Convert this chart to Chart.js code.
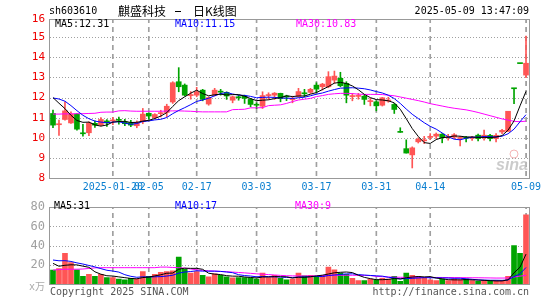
<!DOCTYPE html>
<html>
<head>
<meta charset="utf-8">
<script src="https://cdn.jsdelivr.net/npm/chart.js@4.4.1/dist/chart.umd.min.js"></script>
<style>
body{margin:0;background:#fff;}
#wrap{position:relative;width:545px;height:300px;overflow:hidden;}
canvas{position:absolute;left:0;}
#kline{top:0;}
#vol{top:195px;}
</style>
</head>
<body>
<div id="wrap">
<canvas id="kline" width="545" height="195"></canvas>
<canvas id="vol" width="545" height="105"></canvas>
</div>
<script>
// 日K data
var dates = ['2025-01-06','2025-01-07','2025-01-08','2025-01-09','2025-01-10','2025-01-13','2025-01-14','2025-01-15','2025-01-16','2025-01-17',
	'2025-01-20','2025-01-21','2025-01-22','2025-01-23','2025-01-24','2025-01-27','2025-02-05','2025-02-06','2025-02-07','2025-02-10',
	'2025-02-11','2025-02-12','2025-02-13','2025-02-14','2025-02-17','2025-02-18','2025-02-19','2025-02-20','2025-02-21','2025-02-24',
	'2025-02-25','2025-02-26','2025-02-27','2025-02-28','2025-03-03','2025-03-04','2025-03-05','2025-03-06','2025-03-07','2025-03-10',
	'2025-03-11','2025-03-12','2025-03-13','2025-03-14','2025-03-17','2025-03-18','2025-03-19','2025-03-20','2025-03-21','2025-03-24',
	'2025-03-25','2025-03-26','2025-03-27','2025-03-28','2025-03-31','2025-04-01','2025-04-02','2025-04-03','2025-04-07','2025-04-08',
	'2025-04-09','2025-04-10','2025-04-11','2025-04-14','2025-04-15','2025-04-16','2025-04-17','2025-04-18','2025-04-21','2025-04-22',
	'2025-04-23','2025-04-24','2025-04-25','2025-04-28','2025-04-29','2025-04-30','2025-05-06','2025-05-07','2025-05-08','2025-05-09'];

var openP = [11.21,10.65,10.91,10.74,11.18,10.23,10.25,10.72,10.64,10.84,
	10.84,10.90,10.79,10.75,10.60,10.80,11.22,11.00,11.20,11.26,
	11.78,12.79,12.62,12.10,12.12,12.37,11.68,12.12,12.30,12.26,
	11.87,12.02,12.07,11.91,11.66,11.57,12.10,12.12,12.21,12.06,
	11.90,12.07,12.22,12.26,12.62,12.54,12.54,12.87,12.96,12.71,
	12.05,12.06,12.07,11.80,11.79,11.62,11.83,11.66,10.28,9.46,
	9.15,9.80,9.85,10.02,10.08,10.18,10.02,10.03,9.97,10.00,
	9.98,10.13,10.00,10.12,9.96,10.29,10.32,12.45,13.70,13.12];
var highP = [11.38,10.88,11.79,11.29,11.20,10.67,10.79,10.85,11.00,10.91,
	11.02,11.03,10.92,10.87,10.84,11.46,11.23,11.20,11.37,11.67,
	12.79,13.49,12.68,12.30,12.51,12.41,12.04,12.46,12.41,12.29,
	12.08,12.12,12.12,11.96,11.74,12.29,12.24,12.25,12.22,12.12,
	12.07,12.46,12.41,12.46,12.74,12.71,13.29,13.32,13.26,12.79,
	12.21,12.21,12.12,11.96,11.84,12.01,12.02,11.71,10.50,9.90,
	9.55,10.00,10.07,10.21,10.24,10.21,10.17,10.21,10.07,10.07,
	10.07,10.18,10.38,10.17,10.21,10.42,11.32,12.45,13.70,15.06];
var lowP = [10.50,10.12,10.88,10.71,10.38,10.08,10.10,10.52,10.59,10.56,
	10.65,10.68,10.60,10.55,10.50,10.70,10.93,10.94,11.04,11.04,
	11.71,12.29,12.08,11.92,12.04,11.84,11.62,12.08,12.12,11.91,
	11.74,11.87,11.71,11.54,11.45,11.46,11.91,11.91,11.79,11.85,
	11.74,12.01,12.04,12.21,12.26,12.37,12.49,12.71,12.54,11.74,
	11.84,11.92,11.66,11.59,11.34,11.58,11.77,11.21,10.27,9.24,
	8.50,9.74,9.71,9.92,9.96,9.75,9.88,9.96,9.59,9.79,
	9.87,9.85,9.88,9.85,9.80,10.21,10.32,11.70,13.69,12.99];
var closeP = [10.63,10.70,11.34,11.18,10.43,10.20,10.74,10.63,10.91,10.74,
	10.88,10.87,10.70,10.63,10.76,11.18,11.08,11.16,11.24,11.57,
	12.74,12.54,12.12,12.15,12.29,11.91,12.00,12.37,12.27,12.08,
	12.04,11.99,11.96,11.66,11.62,12.10,12.13,12.22,11.95,12.03,
	11.92,12.30,12.19,12.41,12.42,12.67,13.04,13.07,12.59,12.12,
	12.08,12.08,11.91,11.83,11.59,11.99,11.86,11.41,10.27,9.24,
	9.50,9.93,9.88,10.05,10.18,10.01,10.05,10.15,9.99,9.98,
	10.02,9.96,10.13,9.96,10.12,10.37,11.32,12.44,13.69,13.71];

var ma5 = [12.00,11.72,11.45,11.12,10.86,10.77,10.78,10.64,10.58,10.64,
	10.78,10.81,10.82,10.76,10.77,10.83,10.87,10.96,11.08,11.25,
	11.56,11.85,12.04,12.22,12.37,12.20,12.09,12.14,12.17,12.13,
	12.15,12.15,12.07,11.95,11.85,11.87,11.89,11.95,12.00,12.09,
	12.05,12.08,12.08,12.17,12.25,12.40,12.55,12.72,12.76,12.70,
	12.58,12.39,12.16,12.00,11.90,11.88,11.84,11.74,11.42,10.95,
	10.46,10.07,9.76,9.72,9.91,10.01,10.03,10.09,10.08,10.04,
	10.04,10.02,10.02,10.01,10.04,10.11,10.38,10.84,11.59,12.31];
var ma10 = [11.98,11.93,11.82,11.60,11.35,11.12,10.95,10.83,10.78,10.75,
	10.78,10.80,10.73,10.67,10.71,10.81,10.84,10.89,10.92,11.01,
	11.20,11.36,11.50,11.65,11.81,11.88,11.97,12.09,12.20,12.25,
	12.18,12.12,12.11,12.06,11.99,12.01,12.02,12.01,11.98,11.97,
	11.96,11.99,12.02,12.09,12.17,12.23,12.32,12.40,12.47,12.48,
	12.49,12.47,12.44,12.38,12.30,12.23,12.12,11.95,11.71,11.43,
	11.17,10.96,10.75,10.57,10.43,10.24,10.05,9.93,9.90,9.98,
	10.03,10.03,10.06,10.05,10.04,10.08,10.20,10.43,10.80,11.15];
var ma30 = [11.18,11.18,11.19,11.19,11.20,11.20,11.21,11.22,11.27,11.28,
	11.28,11.34,11.35,11.33,11.32,11.32,11.32,11.32,11.32,11.33,
	11.34,11.34,11.33,11.32,11.30,11.29,11.29,11.29,11.29,11.29,
	11.40,11.41,11.42,11.49,11.49,11.50,11.60,11.62,11.64,11.71,
	11.80,11.88,11.92,11.96,12.05,12.10,12.16,12.19,12.21,12.21,
	12.20,12.17,12.16,12.16,12.16,12.15,12.12,12.09,12.03,11.97,
	11.91,11.85,11.78,11.70,11.64,11.58,11.52,11.47,11.43,11.39,
	11.33,11.26,11.18,11.10,11.02,10.94,10.88,10.82,10.80,10.83];

// 成交量, 万手
var volume = [14.4,16,31.9,22.4,14.8,8.1,10,8.1,10,6.8,
	6.8,5.2,4.3,5.9,5,12.9,8.1,10,12.2,12.9,
	13.8,28.1,15.4,11.3,12.9,9,7.5,10.6,9,7.5,
	6.5,6.8,6.8,6.5,5,11.3,6.8,9,5.9,4.3,
	5,11.3,8.4,9,8.1,9,17.6,14.8,11.3,10,
	5.9,3.6,3.6,5,4.3,5.9,5,8.1,2.7,11.3,
	9,8.1,5.9,4.3,3.6,5,3.6,5,4.3,5,
	3.6,2.7,3.6,2.7,3.6,3.6,8.1,40,32,72];
var vma5 = [21.5,18.5,19.5,20,19.9,18.6,17.4,12.7,10.2,8.6,
	8.3,7.4,6.6,5.8,5.4,6.7,7.2,8.4,9.6,11.2,
	11.4,15.4,16.5,16.3,16.3,15.3,11.2,10.3,9.8,8.7,
	8.2,8.1,7.3,6.8,6.3,7.3,7.3,7.7,7.6,7.5,
	6.2,7.1,7.0,7.6,8.4,9.2,10.4,11.7,12.2,12.5,
	11.9,9.1,6.9,5.6,4.5,4.5,4.8,5.7,5.2,6.6,
	7.2,7.8,7.4,7.7,6.2,5.4,4.5,4.3,4.3,4.6,
	4.3,4.1,3.8,3.5,3.2,3.2,4.3,11.6,17.5,31.1];
var vma10 = [25,24.2,24.3,23.5,22,20.8,19.3,17.8,16,14.3,
	13.5,12.4,9.7,8.0,7.0,7.5,7.3,7.5,7.7,8.3,
	9.1,11.3,12.5,13.0,13.8,13.4,13.3,13.4,13.1,12.5,
	11.8,9.7,8.8,8.3,7.5,7.8,7.7,7.5,7.2,6.9,
	6.8,7.2,7.4,7.6,8.0,7.7,8.8,9.4,9.9,10.5,
	10.6,9.8,9.3,8.9,8.5,8.2,7.0,6.3,5.4,5.6,
	5.9,6.3,6.6,6.5,6.4,6.3,6.2,5.9,6.0,5.4,
	4.9,4.3,4.1,3.9,3.9,3.8,4.2,7.7,10.5,17.2];
var vma30 = [14.5,15.0,15.4,15.4,15.4,15.6,16.2,16.8,17.0,17.0,
	17.0,17.0,17.0,17.0,17.0,17.0,17.0,17.0,17.6,17.6,
	17.2,17.0,16.5,15.6,14.8,14.2,13.8,13.4,13.1,12.8,
	12.4,12.0,11.6,11.1,10.6,10.2,9.8,9.4,9.0,8.6,
	8.5,8.4,8.4,8.4,8.5,8.8,9.0,9.1,9.1,9.1,
	9.1,9.0,9.0,8.8,8.0,7.6,7.3,7.1,7.0,6.9,
	6.9,6.9,6.8,6.8,6.8,6.8,6.7,6.7,6.6,6.6,
	6.5,6.5,6.4,6.3,6.2,6.2,6.3,7.3,8.2,9.0];

var tickIdx = [10, 16, 24, 34, 44, 54, 63, 79];
var priceMin = 8, priceMax = 15.91, volMax = 80;

var up = '#ff5555', down = '#00a400';
var mono = '"DejaVu Sans Mono", monospace';
Chart.defaults.font.family = mono;
Chart.defaults.font.size = 10;

var colors = [], bodies = [], wicks = [], priceGrid = [], volGrid = [];
for (var i = 0; i < dates.length; i++) {
	colors.push(closeP[i] > openP[i] ? up : down);
	bodies.push([openP[i], closeP[i]]);
	wicks.push([lowP[i], highP[i]]);
	var isTick = tickIdx.indexOf(i) >= 0;
	priceGrid.push(isTick ? [priceMin, priceMax] : null);
	volGrid.push(isTick ? [0, volMax] : null);
}

function maLine(data, color) {
	return {type: 'line', data: data, borderColor: color, borderWidth: 1, pointRadius: 0, tension: 0, order: 0};
}

// dashed fill for the vertical date lines, made on the chart's own context
function dashFill(c) {
	var ctx = c.chart.ctx;
	if (!ctx._dash) {
		var cv = document.createElement('canvas');
		cv.width = 1;
		cv.height = 9;
		var g = cv.getContext('2d');
		g.fillStyle = '#a0a0a0';
		g.fillRect(0, 0, 1, 5);
		ctx._dash = ctx.createPattern(cv, 'repeat');
	}
	return ctx._dash;
}

function gridBars(data) {
	return {data: data, backgroundColor: dashFill, barThickness: 1, grouped: false, order: 5};
}

// dotted horizontal grid from the y ticks, dashed verticals at the date bars
var dotGrid = {
	id: 'dotGrid',
	beforeDatasetsDraw: function(chart) {
		var ctx = chart.ctx, a = chart.chartArea, ys = chart.scales.y;
		var top = Math.round(a.top), bot = Math.round(a.bottom);
		var meta = chart.getDatasetMeta(chart.data.datasets.length - 1);
		ctx.save();
		ctx.fillStyle = '#a0a0a0';
		ys.ticks.forEach(function(t) {
			var py = Math.round(ys.getPixelForValue(t.value));
			for (var x = Math.round(a.left); x < a.right; x += 3) ctx.fillRect(x, py, 1, 1);
		});
		tickIdx.forEach(function(k) {
			var el = meta.data[k];
			if (!el || !isFinite(el.x)) return;
			var px = Math.floor(el.x);
			for (var y = top; y < bot; y++) {
				if (y % 9 < 5) ctx.fillRect(px, y, 1, 1);
			}
		});
		ctx.restore();
	}
};

function drawBox(chart) {
	var ctx = chart.ctx, a = chart.chartArea;
	ctx.strokeStyle = '#999';
	ctx.lineWidth = 1;
	ctx.setLineDash([]);
	ctx.strokeRect(Math.round(a.left) - 0.5, Math.round(a.top) + 0.5, Math.round(a.right - a.left) + 1, Math.round(a.bottom - a.top));
}

var klineText = {
	id: 'klineText',
	afterDraw: function(chart) {
		var ctx = chart.ctx;
		ctx.save();
		drawBox(chart);
		ctx.textBaseline = 'middle';
		ctx.font = '10px ' + mono;
		ctx.fillStyle = '#000';
		ctx.fillText('sh603610', 49, 11);
		ctx.textAlign = 'right';
		ctx.fillText('2025-05-09 13:47:09', 529, 11);
		ctx.textAlign = 'left';
		ctx.font = '12px "Noto Sans CJK SC"';
		ctx.fillText('麒盛科技', 118, 11);
		ctx.fillText('日K线图', 193, 11);
		ctx.fillRect(175, 11, 6, 1);
		ctx.font = '10px ' + mono;
		ctx.fillStyle = '#000';
		ctx.fillText('MA5:12.31', 55, 24);
		ctx.fillStyle = '#0000ff';
		ctx.fillText('MA10:11.15', 175, 24);
		ctx.fillStyle = '#ff00ff';
		ctx.fillText('MA30:10.83', 296, 24);
		// sina watermark
		ctx.fillStyle = 'rgba(190,190,190,0.8)';
		ctx.font = 'italic bold 16px "Liberation Sans"';
		ctx.fillText('sina', 496, 166);
		ctx.strokeStyle = 'rgba(240,150,150,0.7)';
		ctx.beginPath();
		ctx.arc(514, 154, 4, 0, Math.PI * 2);
		ctx.stroke();
		ctx.restore();
	}
};

var volText = {
	id: 'volText',
	afterDraw: function(chart) {
		var ctx = chart.ctx;
		ctx.save();
		drawBox(chart);
		ctx.textBaseline = 'middle';
		ctx.font = '10px ' + mono;
		ctx.fillStyle = '#000';
		ctx.fillText('MA5:31', 54, 11);
		ctx.fillStyle = '#0000ff';
		ctx.fillText('MA10:17', 175, 11);
		ctx.fillStyle = '#ff00ff';
		ctx.fillText('MA30:9', 295, 11);
		ctx.fillStyle = '#555';
		ctx.fillText('Copyright 2025 SINA.COM', 50, 97);
		ctx.textAlign = 'right';
		ctx.fillText('http://finance.sina.com.cn', 529, 97);
		ctx.fillStyle = '#aaa';
		ctx.font = '10px ' + mono + ', "Noto Sans CJK SC"';
		ctx.fillText('x万', 45, 92);
		ctx.restore();
	}
};

new Chart(document.getElementById('kline'), {
	type: 'bar',
	data: {
		labels: dates,
		datasets: [
			maLine(ma5, '#000000'),
			maLine(ma10, '#0000ff'),
			maLine(ma30, '#ff00ff'),
			{data: wicks, backgroundColor: colors, barThickness: 1, grouped: false, order: 2},
			{data: bodies, backgroundColor: colors, barThickness: 5, minBarLength: 1, grouped: false, order: 1},
			gridBars(priceGrid)
		]
	},
	options: {
		responsive: false,
		animation: false,
		layout: {padding: {left: 0, right: 16, top: 19, bottom: 0}},
		plugins: {legend: {display: false}, tooltip: {enabled: false}},
		scales: {
			x: {
				grid: {display: false, drawTicks: false},
				border: {display: false},
				ticks: {
					autoSkip: false, maxRotation: 0, minRotation: 0, padding: 3, color: '#0a7fd0',
					callback: function(v, i) {
						if (tickIdx.indexOf(i) < 0) return '';
						return i === 10 ? dates[i] : dates[i].slice(5);
					}
				},
				afterFit: function(s) { s.height = 17; }
			},
			y: {
				min: priceMin, max: priceMax,
				grid: {display: false, drawTicks: false},
				border: {display: false},
				ticks: {
					stepSize: 1, padding: 5, color: '#ee0000', font: {size: 11},
					callback: function(v) { return v > 15.5 ? '16' : v; }
				},
				afterFit: function(s) { s.width = 50; }
			}
		}
	},
	plugins: [dotGrid, klineText]
});

new Chart(document.getElementById('vol'), {
	type: 'bar',
	data: {
		labels: dates,
		datasets: [
			maLine(vma5, '#000000'),
			maLine(vma10, '#0000ff'),
			maLine(vma30, '#ff00ff'),
			{data: volume, backgroundColor: colors, barThickness: 5, grouped: false, order: 1},
			gridBars(volGrid)
		]
	},
	options: {
		responsive: false,
		animation: false,
		layout: {padding: {left: 0, right: 16, top: 6, bottom: 16}},
		plugins: {legend: {display: false}, tooltip: {enabled: false}},
		scales: {
			x: {
				grid: {display: false, drawTicks: false},
				border: {display: false},
				ticks: {display: false},
				afterFit: function(s) { s.height = 0; }
			},
			y: {
				min: 0, max: volMax,
				grid: {display: false, drawTicks: false},
				border: {display: false},
				ticks: {
					stepSize: 20, padding: 5, color: '#a0a0a0', font: {size: 12},
					callback: function(v) { return v === 0 ? '' : v; }
				},
				afterFit: function(s) { s.width = 50; }
			}
		}
	},
	plugins: [dotGrid, volText]
});
</script>
</body>
</html>
